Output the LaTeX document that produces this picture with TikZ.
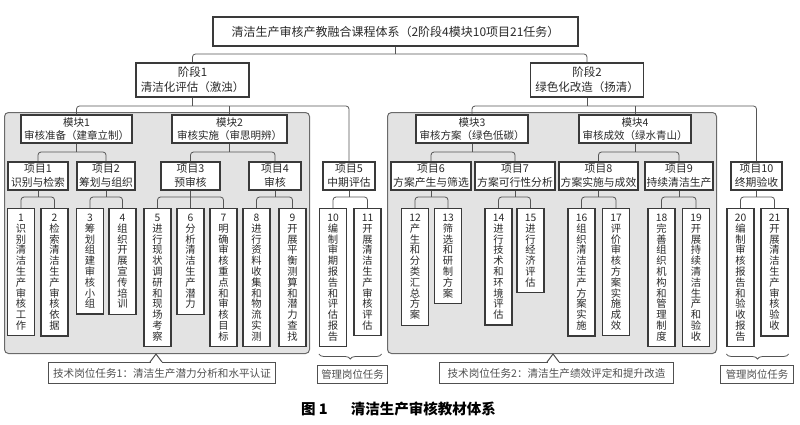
\documentclass[tikz,border=0pt]{standalone}
\usepackage{fontspec}
\setmainfont{Noto Sans CJK SC}
\usetikzlibrary{calc,decorations.pathreplacing}
\definecolor{linec}{HTML}{3A3A3A}
\definecolor{connc}{HTML}{555555}
\definecolor{panfill}{HTML}{E3E3E3}
\definecolor{panline}{HTML}{6A6A6A}
\definecolor{txtc}{HTML}{2A2A2A}
\definecolor{calc}{HTML}{505050}
\makeatletter
\def\vt@end{}
\def\vt#1#2{#1\vt@loop#2\vt@end}
\def\vt@loop#1{\ifx#1\vt@end\else\\#1\expandafter\vt@loop\fi}
\makeatother
\newcommand\mybranch[4]{%
  \draw[conn] (#1.south) -- (#1.south |- 0,#2);
  \draw[conn] (#3.north) -- (#3.north |- 0,#2) -- (#4.north |- 0,#2) -- (#4.north);}
\newcommand\mydrop[2]{\draw[conn] (#1.north) -- (#1.north |- 0,#2);}
\begin{document}
\begin{tikzpicture}[x=1pt,y=-1pt,
  box/.style={draw=linec, line width=1.2pt, fill=white, inner sep=0pt, align=center, text=txtc},
  topbox/.style={box, minimum width=365pt, minimum height=29pt, font=\fontsize{12}{14}\selectfont},
  stagebox/.style={box, minimum width=113pt, minimum height=34pt, font=\fontsize{11.5}{15}\selectfont},
  modbox/.style={box, minimum height=28pt, font=\fontsize{10.5}{12.5}\selectfont},
  projbox/.style={box, minimum height=28pt, font=\fontsize{10.8}{14}\selectfont},
  taskbox/.style={box, minimum width=27pt, anchor=north, inner ysep=5.5pt, font=\fontsize{10.3}{10.8}\selectfont},
  panel/.style={draw=panline, line width=1pt, fill=panfill, rounded corners=4pt, inner sep=0pt},
  callout/.style={draw=calc, line width=1pt, fill=white, inner sep=0pt, text=calc, anchor=north west},
  conn/.style={draw=connc, line width=0.8pt, rounded corners=3pt},
  bracestyle/.style={draw=connc, line width=0.8pt, decorate, decoration={brace, amplitude=5pt, mirror}}
]
\useasboundingbox (0,0) rectangle (800,424);
\fill[white] (0,0) rectangle (800,424);

% panels
\node[panel, anchor=north west, minimum width=305pt, minimum height=241pt] (pan1) at (4,112) {};
\node[panel, anchor=north west, minimum width=329pt, minimum height=241pt] (pan2) at (387,112) {};

% top and stages
\node[topbox] (top) at (395.5,31.5) {清洁生产审核产教融合课程体系（2阶段4模块10项目21任务）};
\node[stagebox] (s1) at (192.5,80) {阶段1\\清洁化评估（激浊）};
\node[stagebox] (s2) at (587,80) {阶段2\\绿色化改造（扬清）};

% modules
\node[modbox, minimum width=111pt] (m1) at (76.5,129) {模块1\\审核准备（建章立制）};
\node[modbox, minimum width=115pt] (m2) at (229.5,129) {模块2\\审核实施（审思明辨）};
\node[modbox, minimum width=112pt] (m3) at (472,129) {模块3\\审核方案（绿色低碳）};
\node[modbox, minimum width=112pt] (m4) at (635,129) {模块4\\审核成效（绿水青山）};

% projects
\node[projbox, minimum width=60pt] (p1) at (38,176) {项目1\\识别与检索};
\node[projbox, minimum width=58pt] (p2) at (106,176) {项目2\\筹划与组织};
\node[projbox, minimum width=59pt] (p3) at (190.5,176) {项目3\\预审核};
\node[projbox, minimum width=52pt] (p4) at (275,176) {项目4\\审核};
\node[projbox, minimum width=52pt] (p5) at (349,176) {项目5\\中期评估};
\node[projbox, minimum width=80pt] (p6) at (431,176) {项目6\\方案产生与筛选};
\node[projbox, minimum width=80pt] (p7) at (515,176) {项目7\\方案可行性分析};
\node[projbox, minimum width=79pt] (p8) at (598.5,176) {项目8\\方案实施与成效};
\node[projbox, minimum width=68pt] (p9) at (679,176) {项目9\\持续清洁生产};
\node[projbox, minimum width=51pt] (p10) at (756.5,176) {项目10\\终期验收};

% tasks
\node[taskbox] (t1) at (21,208) {\vt{1}{识别清洁生产审核工作}};
\node[taskbox] (t2) at (54.5,208) {\vt{2}{检索清洁生产审核依据}};
\node[taskbox] (t3) at (90,208) {\vt{3}{筹划组建审核小组}};
\node[taskbox] (t4) at (122.5,208) {\vt{4}{组织开展宣传培训}};
\node[taskbox] (t5) at (157.5,208) {\vt{5}{进行现状调研和现场考察}};
\node[taskbox] (t6) at (190.5,208) {\vt{6}{分析清洁生产潜力}};
\node[taskbox] (t7) at (223.5,208) {\vt{7}{明确审核重点和审核目标}};
\node[taskbox] (t8) at (256.5,208) {\vt{8}{进行资料收集和物流实测}};
\node[taskbox] (t9) at (292.5,208) {\vt{9}{开展平衡测算和潜力查找}};
\node[taskbox] (t10) at (333,208) {\vt{10}{编制审期报告和评估报告}};
\node[taskbox] (t11) at (367.5,208) {\vt{11}{开展清洁生产审核评估}};
\node[taskbox] (t12) at (415,208) {\vt{12}{产生和分类汇总方案}};
\node[taskbox] (t13) at (448,208) {\vt{13}{筛选和研制方案}};
\node[taskbox] (t14) at (498.5,208) {\vt{14}{进行技术和环境评估}};
\node[taskbox] (t15) at (530.5,208) {\vt{15}{进行经济评估}};
\node[taskbox] (t16) at (581.5,208) {\vt{16}{组织清洁生产方案实施}};
\node[taskbox] (t17) at (616,208) {\vt{17}{评价审核方案实施成效}};
\node[taskbox] (t18) at (661.5,208) {\vt{18}{完善组织机构和管理制度}};
\node[taskbox] (t19) at (696,208) {\vt{19}{开展持续清洁生产和验收}};
\node[taskbox] (t20) at (740.5,208) {\vt{20}{编制审核报告和验收报告}};
\node[taskbox] (t21) at (774.5,208) {\vt{21}{开展清洁生产审核验收}};

% connectors
\mybranch{top}{54}{s1}{s2}
\mybranch{s1}{106}{m1}{p5}
\mydrop{m2}{106}
\mybranch{s2}{106}{m3}{p10}
\mydrop{m4}{106}
\mybranch{m1}{152}{p1}{p2}
\mybranch{m2}{152}{p3}{p4}
\mybranch{m3}{152}{p6}{p7}
\mybranch{m4}{152}{p8}{p9}
\mybranch{p1}{197}{t1}{t2}
\mybranch{p2}{197}{t3}{t4}
\mybranch{p3}{197}{t5}{t7}
\mydrop{t6}{197}
\mybranch{p4}{197}{t8}{t9}
\mybranch{p5}{197}{t10}{t11}
\mybranch{p6}{197}{t12}{t13}
\mybranch{p7}{197}{t14}{t15}
\mybranch{p8}{197}{t16}{t17}
\mybranch{p9}{197}{t18}{t19}
\mybranch{p10}{197}{t20}{t21}

% callouts
\node[callout, minimum width=227pt, minimum height=21pt, font=\fontsize{10.6}{12}\selectfont] (c1) at (48,362) {技术岗位任务1：清洁生产潜力分析和水平认证};
\node[callout, minimum width=234pt, minimum height=21pt, font=\fontsize{10.6}{12}\selectfont] (c2) at (439,362) {技术岗位任务2：清洁生产绩效评定和提升改造};
\coordinate (tip1) at (pan1.south -| 156,0);
\coordinate (tip2) at (pan2.south -| 553,0);
\draw[white, line width=1.6pt] ($(c1.north -| tip1)+(-5.5,0)$) -- ($(c1.north -| tip1)+(5.5,0)$);
\draw[draw=calc, line width=1pt] ($(c1.north -| tip1)+(-6,0)$) -- (tip1) -- ($(c1.north -| tip1)+(6,0)$);
\draw[white, line width=1.6pt] ($(c2.north -| tip2)+(-5.5,0)$) -- ($(c2.north -| tip2)+(5.5,0)$);
\draw[draw=calc, line width=1pt] ($(c2.north -| tip2)+(-6,0)$) -- (tip2) -- ($(c2.north -| tip2)+(6,0)$);

% management
\draw[bracestyle] (t10.west |- pan1.south) -- (t11.east |- pan1.south);
\draw[bracestyle] (t20.west |- pan1.south) -- (t21.east |- pan1.south);
\node[callout, minimum width=70pt, minimum height=18pt, font=\fontsize{10.4}{12}\selectfont] (g1) at (317,365) {管理岗位任务};
\node[callout, minimum width=73pt, minimum height=18pt, font=\fontsize{10.4}{12}\selectfont] (g2) at (720,365) {管理岗位任务};

% caption
\node[font=\bfseries\fontsize{14.5}{16}\selectfont, text=black] (cap) at (398.5,409) {图 1\hspace{1.6em}清洁生产审核教材体系};
\end{tikzpicture}
\end{document}
